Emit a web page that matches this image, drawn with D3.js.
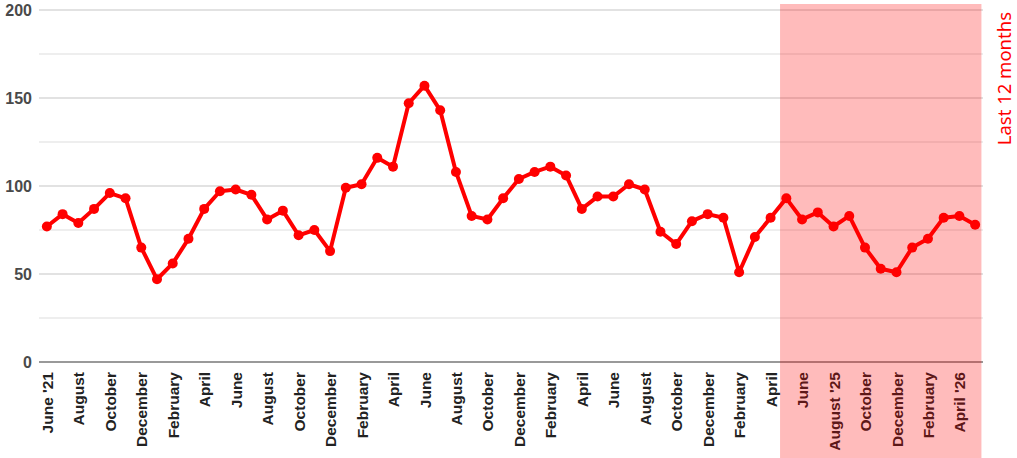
<!DOCTYPE html>
<html><head><meta charset="utf-8">
<script src="https://cdn.jsdelivr.net/npm/d3@7"></script>
<style>html,body{margin:0;padding:0;background:#fff;}svg{display:block;}</style>
</head><body>
<svg id="c" width="1017" height="458"></svg>
<script>
const months = ["June '21","July","August","September","October","November","December","January","February","March","April","May",
"June","July","August","September","October","November","December","January","February","March","April","May",
"June","July","August","September","October","November","December","January","February","March","April","May",
"June","July","August","September","October","November","December","January","February","March","April","May",
"June","July","August '25","September","October","November","December","January","February","March","April '26","May"];
const values = [77,84,79,87,96,93,65,47,56,70,87,97,
98,95,81,86,72,75,63,99,101,116,111,147,
157,143,108,83,81,93,104,108,111,106,87,94,
94,101,98,74,67,80,84,82,51,71,82,93,
81,85,77,83,65,53,51,65,70,82,83,78];
const yTicks = [0,50,100,150,200];
const yGrid = [0,25,50,75,100,125,150,175,200];
const highlightStart = 47;
const highlightLabel = "Last 12 months";

const svg = d3.select("#c");
const L = 39, R = 983, T = 10, B = 362;
const x = d3.scalePoint().domain(d3.range(values.length)).range([L, R]).padding(0.5);
const y = d3.scaleLinear().domain([0, 200]).range([B, T]);

// grid
svg.append("g").selectAll("line").data(yGrid.filter(d => d > 0)).join("line")
  .attr("x1", L).attr("x2", R).attr("y1", d => y(d)).attr("y2", d => y(d))
  .attr("stroke", d => d % 50 === 0 ? "#d8d8d8" : "#e9e9e9").attr("stroke-width", 1.6);

// y axis labels
const ya = d3.axisLeft(y).tickValues(yTicks).tickSize(0).tickPadding(7);
const yg = svg.append("g").attr("transform", `translate(${L},0)`).call(ya);
yg.select(".domain").remove();
yg.selectAll("text").attr("font-family", "Liberation Sans, Arial, sans-serif").attr("font-size", 16).attr("fill", "#4a4a4a").attr("font-weight", "bold").attr("dy", "0.35em");

// x axis
const xa = d3.axisBottom(x).tickValues(d3.range(0, values.length, 2)).tickSize(0).tickFormat(i => months[i]);
const xg = svg.append("g").attr("transform", `translate(0,${B})`).call(xa);
xg.select(".domain").attr("stroke", "#999").attr("stroke-width", 2).attr("d", `M${L},0H${R}`);
xg.selectAll("text").attr("font-family", "Liberation Sans, Arial, sans-serif").attr("font-size", 15.5).attr("font-weight", "bold").attr("fill", "#222")
  .attr("text-anchor", "end").attr("transform", "rotate(-90)").attr("x", -10).attr("y", 0).attr("dy", "0.36em");

// line
const line = d3.line().x((d, i) => x(i)).y(d => y(d));
svg.append("path").datum(values).attr("d", line).attr("fill", "none").attr("stroke", "#ff0000").attr("stroke-width", 4).attr("stroke-linejoin", "round");
svg.append("g").selectAll("circle").data(values).join("circle")
  .attr("cx", (d, i) => x(i)).attr("cy", d => y(d)).attr("r", 5).attr("fill", "#ff0000");

// highlight
const step = x.step();
svg.append("rect").attr("x", x(highlightStart) - 0.4 * step).attr("y", 4)
  .attr("width", x(values.length - 1) + 0.4 * step - (x(highlightStart) - 0.4 * step)).attr("height", 458 - 4)
  .attr("fill", "#ff0000").attr("fill-opacity", 0.267);

svg.append("text").attr("transform", "translate(1011,12) rotate(-90)").attr("text-anchor", "end")
  .attr("font-family", "Noto Sans, sans-serif").attr("font-size", 18.5).attr("fill", "#ff0000").text(highlightLabel);
</script>
</body></html>
